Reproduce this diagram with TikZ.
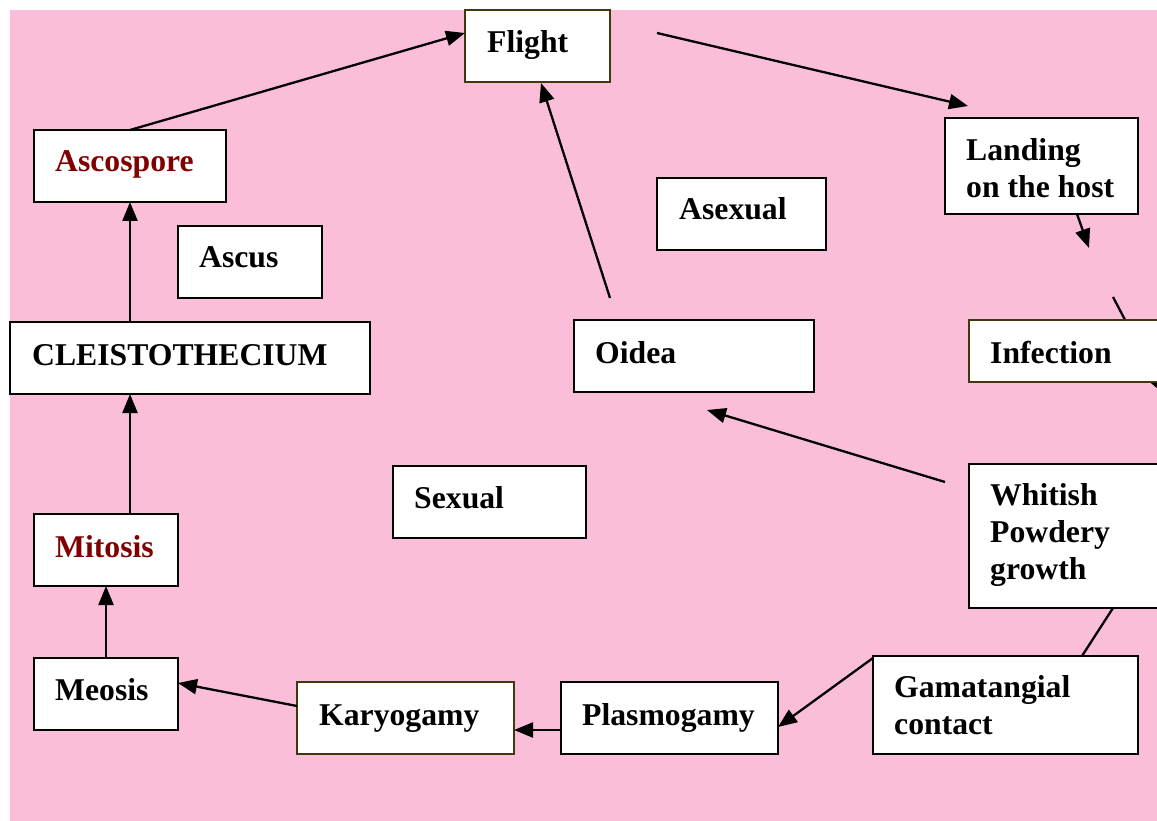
\documentclass[tikz,border=0pt]{standalone}
\usepackage{fontspec}
\setmainfont{Liberation Serif}
\usetikzlibrary{arrows.meta}
\definecolor{bgpink}{RGB}{250,190,217}
\definecolor{darkred}{RGB}{128,0,0}
\definecolor{olivebd}{RGB}{64,56,16}
\begin{document}
\begin{tikzpicture}[x=1pt,y=-1pt,
  box/.style={draw=black, line width=1.8pt, fill=white, rectangle, inner sep=0pt, outer sep=0pt, anchor=north west},
  obox/.style={box, draw=olivebd},
  lbl/.style={anchor=base west, inner sep=0pt, font=\bfseries\fontsize{31.7}{37}\selectfont, align=left},
  arr/.style={line width=2.3pt, -{Triangle[length=19pt,width=15pt]}},
  ln/.style={line width=2.3pt}]
\useasboundingbox (0,0) rectangle (1157,821);
\clip (0,0) rectangle (1157,821);
\fill[bgpink] (10,10) rectangle (1157,821);

% arrow that runs behind the Infection box
\coordinate (infA) at (1113,297);
\coordinate (infB) at (1164,394);
\draw[arr] (infA) -- (infB);

% boxes
\node[obox, minimum width=145pt, minimum height=72pt] (flight) at (465,10) {};
\node[box, minimum width=192pt, minimum height=72pt] (asco) at (34,130) {};
\node[box, minimum width=144pt, minimum height=72pt] (ascus) at (178,226) {};
\node[box, minimum width=360pt, minimum height=72pt] (cleis) at (10,322) {};
\node[box, minimum width=144pt, minimum height=72pt] (mitosis) at (34,514) {};
\node[box, minimum width=144pt, minimum height=72pt] (meosis) at (34,658) {};
\node[obox, minimum width=217pt, minimum height=72pt] (karyo) at (297,682) {};
\node[box, minimum width=217pt, minimum height=72pt] (plasmo) at (561,682) {};
\node[box, minimum width=265pt, minimum height=98pt] (gamat) at (873,656) {};
\node[box, minimum width=210pt, minimum height=144pt] (whitish) at (969,464) {};
\node[obox, minimum width=210pt, minimum height=62pt] (infection) at (969,320) {};
\node[box, minimum width=193pt, minimum height=96pt] (landing) at (945,118) {};
\node[box, minimum width=169pt, minimum height=72pt] (asexual) at (657,178) {};
\node[box, minimum width=240pt, minimum height=72pt] (oidea) at (574,320) {};
\node[box, minimum width=193pt, minimum height=72pt] (sexual) at (393,466) {};

% labels (base = baseline of the last line)
\node[lbl] (tflight) at (487,53) {Flight};
\node[lbl, text=darkred] (tasco) at (55,172) {Ascospore};
\node[lbl] (tascus) at (199,268) {Ascus};
\node[lbl] (tcleis) at (32,365) {CLEISTOTHECIUM};
\node[lbl, text=darkred] (tmitosis) at (55,557) {Mitosis};
\node[lbl] (tmeosis) at (55,700) {Meosis};
\node[lbl] (tkaryo) at (319,725) {Karyogamy};
\node[lbl] (tplasmo) at (582,725) {Plasmogamy};
\node[lbl] (tgamat) at (894,734) {Gamatangial\\contact};
\node[lbl] (twhitish) at (990,579) {Whitish\\Powdery\\growth};
\node[lbl] (tinfection) at (990,363) {Infection};
\node[lbl] (tlanding) at (966,198) {Landing\\on the host};
\node[lbl] (tasexual) at (679,220) {Asexual};
\node[lbl] (toidea) at (595,363) {Oidea};
\node[lbl] (tsexual) at (414,508) {Sexual};

% connectors
\coordinate (flStart) at (657,33);
\coordinate (landTip) at (1089,248);
\draw[arr] (asco.north) -- ([yshift=13pt]flight.west);
\draw[arr] (flStart) -- ([xshift=23pt,yshift=12pt]landing.north west);
\draw[arr] ([xshift=132pt]landing.south west) -- (landTip);
\draw[arr] ([xshift=36pt,yshift=22pt]oidea.north west) -- ([xshift=3.5pt,yshift=-1pt]flight.south);
\draw[arr] ([xshift=-24pt,yshift=54pt]whitish.west) -- ([xshift=133pt,yshift=-18pt]oidea.south west);
\draw[ln] ([xshift=144pt]whitish.south west) -- ([xshift=209pt]gamat.north west);
\draw[arr] ([yshift=-2pt]gamat.north west) -- ([yshift=-9pt]plasmo.east);
\draw[arr] ([yshift=-12pt]plasmo.west) -- ([yshift=-12pt]karyo.east);
\draw[arr] ([yshift=12pt]karyo.west) -- ([yshift=11pt]meosis.east);
\draw[arr] (meosis.north) -- (mitosis.south);
\draw[arr] ([xshift=96pt]mitosis.north west) -- ([xshift=120pt]cleis.south west);
\draw[arr] ([xshift=120pt]cleis.north west) -- (asco.south);
\end{tikzpicture}
\end{document}
